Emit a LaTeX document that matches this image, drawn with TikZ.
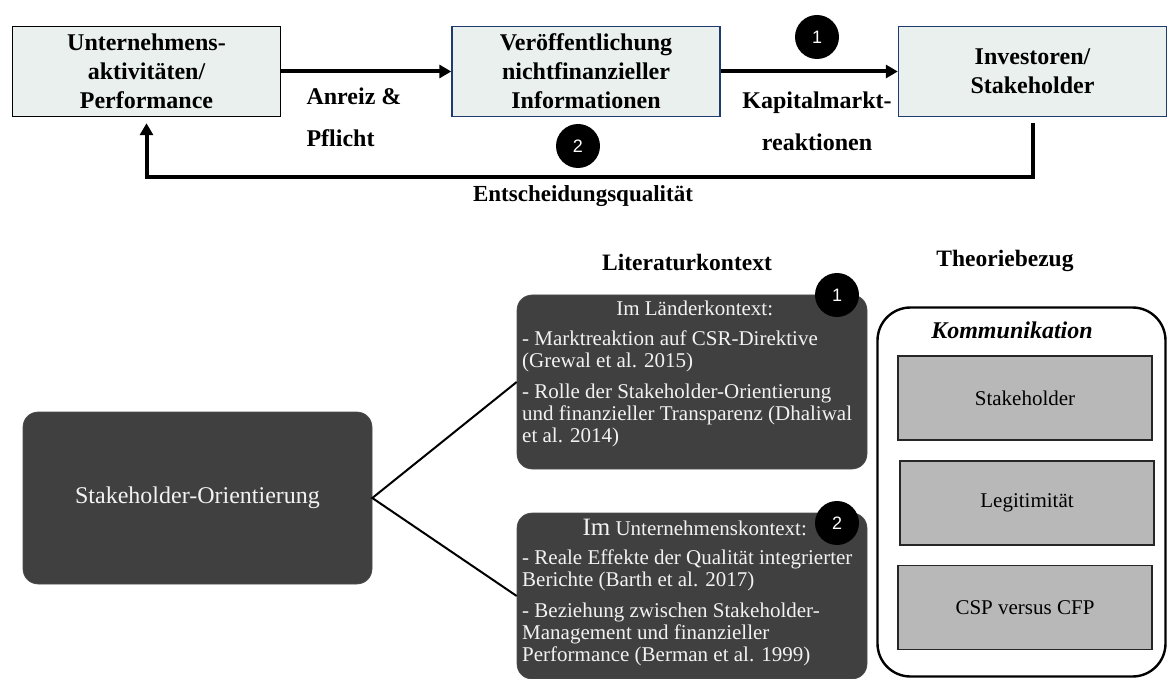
\documentclass[tikz,border=0pt]{standalone}
\usepackage{fontspec}
\setmainfont{Liberation Serif}
\newfontfamily\digitfont{Liberation Sans}
\usetikzlibrary{arrows.meta}
\definecolor{boxfill}{HTML}{E9F0ED}
\definecolor{boxblue}{HTML}{1F3A6E}
\definecolor{darkfill}{HTML}{404040}
\definecolor{lighttext}{HTML}{F2F2F2}
\definecolor{theoryfill}{HTML}{B8B8B8}
\begin{document}
\begin{tikzpicture}[x=1pt,y=-1pt,
  topbox/.style={draw=#1, line width=1.4pt, fill=boxfill, minimum width=268pt,
    minimum height=90pt, align=center, inner sep=0pt,
    font=\fontsize{24}{29}\selectfont\bfseries},
  flow/.style={line width=4pt, -{Triangle[length=12pt,width=13pt]}},
  lbl/.style={inner sep=0pt, font=\fontsize{24}{42}\selectfont\bfseries},
  badge/.style={circle, fill=black, minimum size=44pt, inner sep=0pt,
    text=white, font=\digitfont\fontsize{18}{18}\selectfont},
  darkbox/.style={rounded corners=15pt, fill=darkfill, draw=gray!60!black,
    line width=0.6pt, inner sep=0pt},
  littext/.style={inner sep=0pt, text=lighttext, font=\fontsize{21}{22}\selectfont},
  header/.style={inner sep=0pt, font=\fontsize{23.5}{28}\selectfont\bfseries},
  theorybox/.style={draw=black!85, line width=1.6pt, fill=theoryfill,
    minimum width=254pt, minimum height=84pt, inner sep=0pt,
    font=\fontsize{21}{25}\selectfont},
  branch/.style={line width=2pt}
]
\useasboundingbox (0,0) rectangle (1168,679);

% ---- upper flow ----
\node[topbox=black] (A) at (146.5,71.5) {Unternehmens-\\aktivitäten/\\Performance};
\node[topbox=boxblue] (B) at (586,71.5) {Veröffentlichung\\nichtfinanzieller\\Informationen};
\node[topbox=boxblue] (C) at (1032.5,71.5) {Investoren/\\Stakeholder};

\draw[flow] (A.east) -- (B.west);
\draw[flow] (B.east) -- (C.west);
\draw[flow] ([yshift=-6pt]C.south) |- ([yshift=-60pt]A.south) -- ([yshift=-6pt]A.south);

\node[lbl, align=left] (anreiz) at (354,117) {Anreiz \&\\Pflicht};
\node[lbl, align=center] (kapital) at (817,121) {Kapitalmarkt-\\reaktionen};
\node[lbl, font=\fontsize{23}{28}\selectfont\bfseries] (entsch) at (583,196) {Entscheidungsqualität};

\node[badge] (n1top) at (817,37) {1};
\node[badge] (n2top) at (578,146) {2};

% ---- lower part ----
\node[header] (lit) at (687,262) {Literaturkontext};
\node[header] (theo) at (1005,261) {Theoriebezug};

\node[darkbox, minimum width=349pt, minimum height=172pt, text=lighttext,
  font=\fontsize{24}{28}\selectfont] (SO) at (197.5,498) {Stakeholder-Orientierung};

\node[darkbox, minimum width=350pt, minimum height=174pt] (L1) at (692,382) {};
\node[darkbox, minimum width=350pt, minimum height=166pt] (L2) at (692,596) {};

\draw[branch] (L1.west) -- (SO.east) -- (L2.west);

\node[littext, anchor=north west] (L1txt) at (522,301) {\parbox{345pt}{\centering
  Im Länderkontext:\par\vspace{8pt}\raggedright
  - Marktreaktion auf CSR-Direktive\\(Grewal et al. 2015)\par\vspace{9pt}
  - Rolle der Stakeholder-Orientierung\\und finanzieller Transparenz (Dhaliwal\\et al. 2014)}};

\node[littext, anchor=north west] (L2txt) at (522,519) {\parbox{345pt}{\centering
  {\fontsize{25}{25}\selectfont Im} Unternehmenskontext:\par\vspace{7pt}\raggedright
  - Reale Effekte der Qualität integrierter\\Berichte (Barth et al. 2017)\par\vspace{9pt}
  - Beziehung zwischen Stakeholder-\\Management und finanzieller\\Performance (Berman et al. 1999)}};

\node[badge] (n1low) at (837,295) {1};
\node[badge] (n2low) at (837,523) {2};

\node[draw=black, line width=2.4pt, rounded corners=33pt, fill=white,
  minimum width=288pt, minimum height=369pt, inner sep=0pt] (T) at (1021.5,492) {};
\node[inner sep=0pt, font=\fontsize{24}{28}\selectfont\bfseries\itshape] (komm) at (1012,330) {Kommunikation};
\node[theorybox] (G1) at (1025,398) {Stakeholder};
\node[theorybox] (G2) at (1027,503) {Legitimität};
\node[theorybox] (G3) at (1025,607.5) {CSP versus CFP};
\end{tikzpicture}
\end{document}
